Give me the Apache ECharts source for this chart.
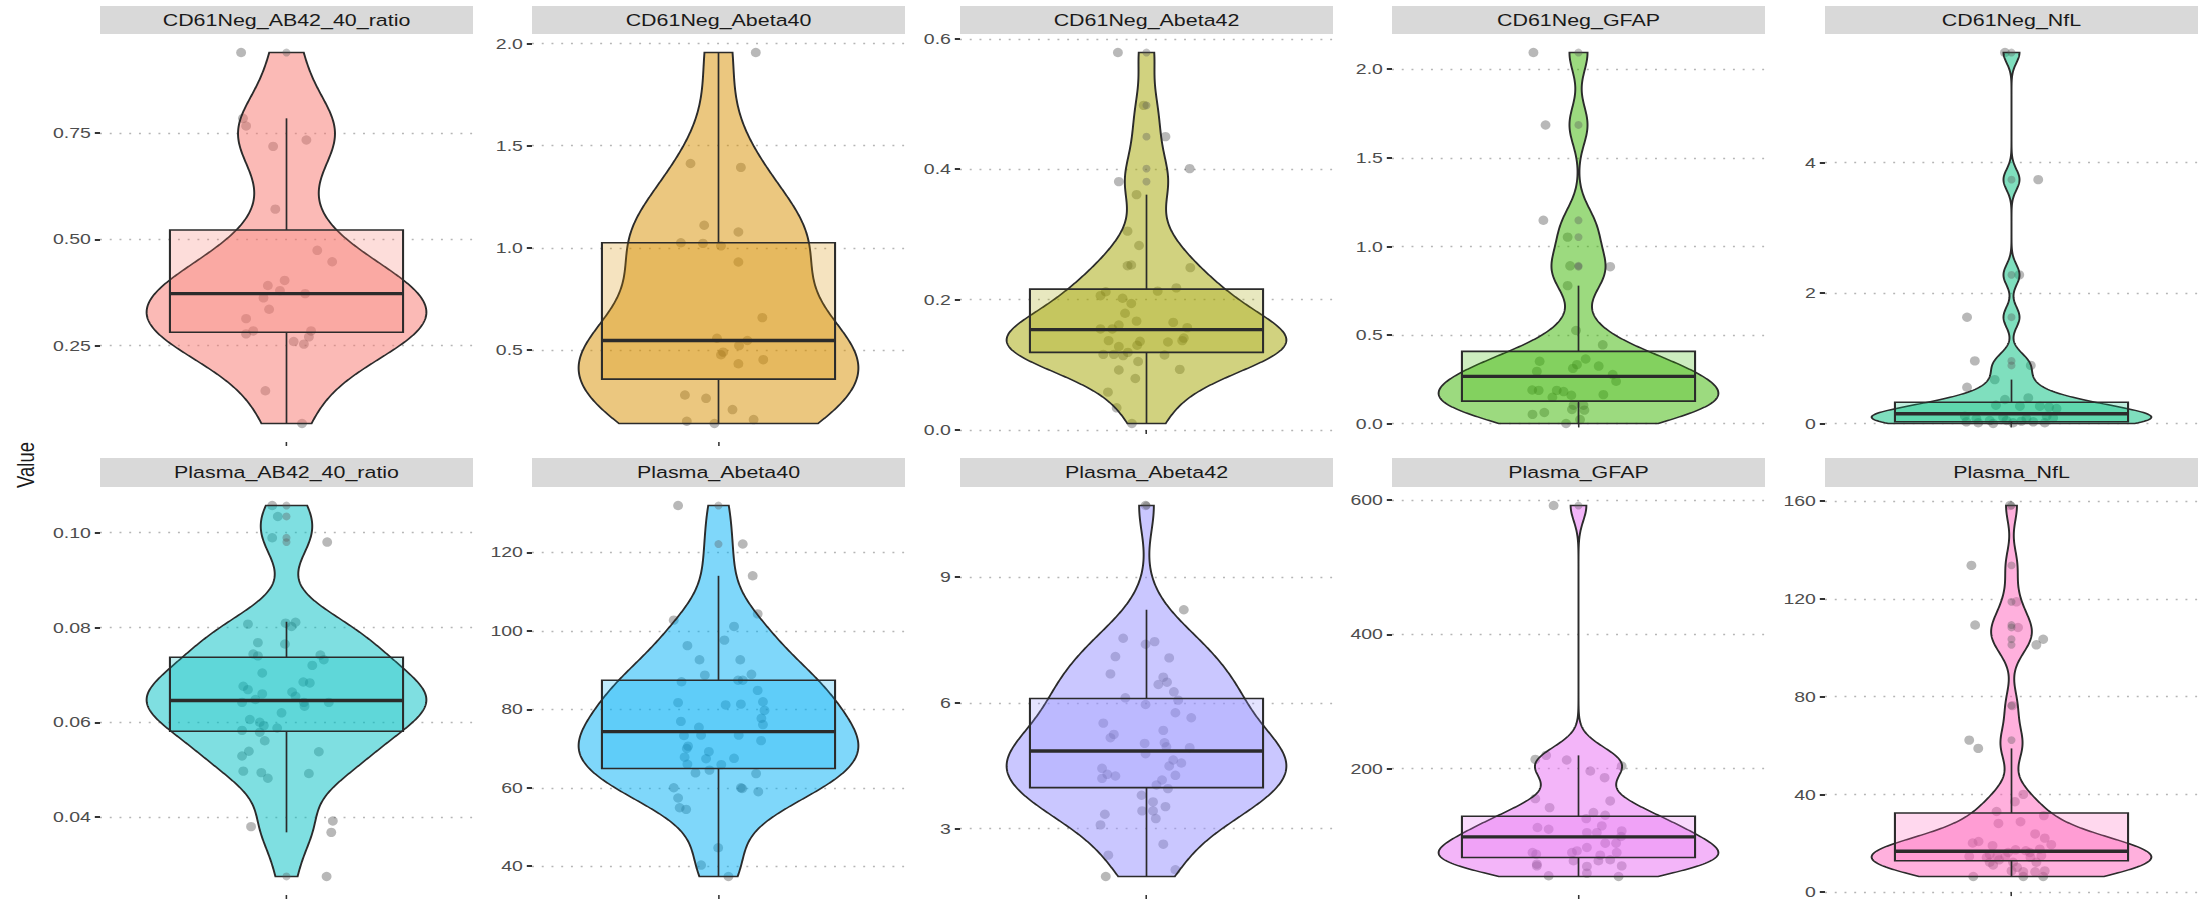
<!DOCTYPE html>
<html>
<head>
<meta charset="utf-8">
<script src="https://cdn.jsdelivr.net/npm/echarts@6/dist/echarts.min.js"></script>
<style>
  html, body { margin: 0; padding: 0; background: #ffffff; overflow: hidden; }
  #wrap { width: 2208px; height: 902px; overflow: hidden; }
  /* the figure is laid out at a narrower width and widened to the page */
  #chart { width: 1700px; height: 902px; transform: scaleX(1.298824); transform-origin: 0 0; }
</style>
</head>
<body>
<div id="wrap"><div id="chart"></div></div>
<script>
// ---- facet titles and fill colours ----
const panelNames = [
  'CD61Neg_AB42_40_ratio', 'CD61Neg_Abeta40', 'CD61Neg_Abeta42', 'CD61Neg_GFAP', 'CD61Neg_NfL',
  'Plasma_AB42_40_ratio', 'Plasma_Abeta40', 'Plasma_Abeta42', 'Plasma_GFAP', 'Plasma_NfL'
];
const panelColors = ['#F8766D', '#D89000', '#A3A500', '#39B600', '#00BF7D',
                     '#00BFC4', '#00B0F6', '#9590FF', '#E76BF3', '#FF62BC'];

// ---- measured values (y) and their horizontal jitter offsets ----
const cd61Ratio = [0.94, 0.785, 0.767, 0.719, 0.734, 0.571, 0.474, 0.447, 0.403, 0.391, 0.379, 0.372, 0.362, 0.335, 0.313, 0.284, 0.277, 0.284, 0.270, 0.259, 0.253, 0.143, 0.066];
const cd61RatioJitter = [-0.146, -0.140, -0.130, -0.043, 0.064, -0.036, 0.099, 0.147, -0.006, -0.060, -0.021, 0.060, -0.074, -0.056, -0.130, -0.107, -0.130, 0.079, 0.072, 0.023, 0.056, -0.068, 0.050];

const cd61Ab40 = [1.956, 1.413, 1.394, 1.111, 1.078, 1.025, 1.022, 1.010, 0.931, 0.659, 0.558, 0.547, 0.522, 0.490, 0.477, 0.453, 0.433, 0.280, 0.264, 0.209, 0.152, 0.141, 0.160];
const cd61Ab40Jitter = [0.120, -0.090, 0.072, -0.046, 0.064, -0.121, -0.050, 0.008, 0.064, 0.141, -0.005, 0.093, 0.066, 0.015, 0.008, 0.144, 0.064, -0.108, -0.040, 0.045, -0.102, -0.013, 0.113];

const cd61Ab42 = [0.579, 0.498, 0.450, 0.401, 0.381, 0.361, 0.305, 0.283, 0.252, 0.253, 0.249, 0.218, 0.213, 0.212, 0.206, 0.202, 0.194, 0.179, 0.167, 0.165, 0.161, 0.155, 0.155, 0.157, 0.137, 0.136, 0.135, 0.141, 0.137, 0.128, 0.130, 0.116, 0.116, 0.119, 0.114, 0.115, 0.105, 0.092, 0.093, 0.079, 0.058, 0.034, 0.010];
const cd61Ab42Jitter = [-0.092, -0.009, 0.061, 0.139, -0.089, -0.032, -0.061, -0.024, -0.061, -0.049, 0.141, 0.096, 0.036, -0.131, -0.148, -0.077, -0.049, -0.069, -0.032, 0.086, -0.089, -0.148, -0.110, 0.131, -0.122, -0.021, 0.069, 0.120, 0.115, -0.089, -0.030, -0.139, -0.105, -0.060, -0.075, 0.058, -0.027, -0.089, 0.107, -0.036, -0.124, -0.096, -0.047];

const cd61Gfap = [2.094, 1.685, 1.147, 1.052, 0.890, 0.885, 0.778, 0.525, 0.444, 0.351, 0.364, 0.332, 0.311, 0.324, 0.294, 0.276, 0.238, 0.189, 0.187, 0.187, 0.180, 0.159, 0.163, 0.148, 0.103, 0.103, 0.079, 0.075, 0.051, 0.062, 0.000, 0.022];
const cd61GfapJitter = [-0.145, -0.106, -0.113, -0.035, -0.027, 0.102, -0.035, -0.008, 0.078, -0.125, 0.023, -0.005, -0.018, 0.065, -0.134, 0.110, 0.121, -0.149, -0.128, -0.070, -0.048, -0.023, 0.080, -0.084, -0.016, 0.016, -0.021, 0.019, -0.148, -0.110, -0.040, 0.005];

const cd61Nfl = [5.69, 3.74, 2.28, 1.63, 0.96, 0.89, 0.673, 0.555, 0.367, 0.392, 0.280, 0.265, 0.265, 0.250, 0.229, 0.112, 0.087, 0.112, 0.076, 0.046, 0.046, 0.036, 0.025, 0.025, 0.010, 0.010, 0.010, 0.0, 0.076, 0.097];
const cd61NflJitter = [-0.021, 0.086, 0.025, -0.143, -0.118, 0.062, -0.054, -0.143, -0.021, 0.054, -0.050, 0.027, 0.091, 0.121, 0.145, 0.113, 0.134, -0.150, -0.113, -0.070, -0.016, 0.032, 0.070, -0.145, -0.107, 0.005, 0.107, -0.059, 0.048, -0.027];

const plasmaRatio = [0.1057, 0.1034, 0.0989, 0.0980, 0.0807, 0.0809, 0.0811, 0.0802, 0.0768, 0.0765, 0.0744, 0.0740, 0.0742, 0.0732, 0.0720, 0.0704, 0.0685, 0.0683, 0.0676, 0.0669, 0.0664, 0.0655, 0.0660, 0.0648, 0.0642, 0.0642, 0.0634, 0.0642, 0.0620, 0.0606, 0.0600, 0.0593, 0.0588, 0.0583, 0.0579, 0.0561, 0.0538, 0.0539, 0.0529, 0.0497, 0.0494, 0.0492, 0.0482, 0.0380, 0.0392, 0.0368, 0.0275];
const plasmaRatioJitter = [-0.046, -0.028, -0.046, 0.131, -0.124, -0.003, 0.029, 0.016, -0.092, -0.005, -0.107, -0.092, 0.109, 0.120, 0.083, -0.078, 0.054, 0.075, -0.139, -0.124, 0.018, 0.029, -0.078, -0.100, -0.143, 0.056, 0.058, 0.136, -0.016, -0.118, -0.086, -0.073, -0.030, -0.143, -0.086, -0.070, 0.104, -0.121, -0.143, -0.139, -0.081, 0.072, -0.060, -0.114, 0.149, 0.144, 0.129];

const plasmaAb40 = [131.9, 122.1, 114.0, 104.3, 102.7, 101.1, 96.2, 97.6, 92.6, 92.6, 88.7, 88.9, 87.0, 87.4, 87.4, 84.8, 81.7, 81.9, 81.1, 81.3, 79.7, 77.7, 76.9, 76.1, 75.4, 73.3, 73.4, 73.4, 72.0, 70.6, 70.0, 69.2, 67.8, 67.4, 67.5, 66.0, 65.9, 64.5, 63.8, 63.6, 60.0, 59.8, 60.0, 59.0, 57.4, 54.9, 54.5, 44.7, 40.3, 37.4];
const plasmaAb40Jitter = [-0.130, 0.078, 0.110, 0.126, -0.144, 0.050, -0.100, 0.019, -0.061, 0.070, -0.044, 0.106, -0.119, 0.063, 0.078, 0.126, -0.130, 0.143, 0.023, 0.072, 0.148, 0.138, -0.121, 0.143, -0.063, -0.111, -0.056, 0.065, 0.137, -0.098, -0.102, -0.031, -0.109, -0.040, 0.050, -0.100, 0.009, -0.029, -0.074, 0.121, -0.144, 0.076, 0.072, 0.128, -0.130, -0.125, -0.104, -0.001, -0.056, 0.032];

const plasmaAb42 = [10.706, 8.22, 7.540, 7.397, 7.460, 7.103, 7.071, 6.690, 6.611, 6.492, 6.437, 6.262, 6.119, 6.063, 5.960, 5.762, 5.643, 5.516, 5.341, 5.246, 5.167, 5.032, 5.048, 4.952, 4.929, 4.786, 4.635, 4.563, 4.492, 4.437, 4.294, 4.254, 4.198, 4.270, 4.159, 4.040, 3.952, 3.794, 3.635, 3.421, 3.421, 3.524, 3.238, 3.341, 3.087, 2.627, 2.365, 2.016, 1.857];
const plasmaAb42Jitter = [-0.003, 0.120, -0.075, -0.003, 0.026, -0.100, 0.073, -0.116, 0.054, 0.066, 0.038, 0.088, -0.068, 0.102, -0.003, 0.093, 0.144, -0.139, 0.054, -0.105, -0.116, -0.006, 0.058, 0.064, 0.139, -0.003, 0.086, 0.112, 0.073, -0.143, -0.126, -0.100, -0.143, 0.093, 0.050, 0.032, 0.069, -0.016, 0.021, -0.014, 0.021, 0.061, 0.030, -0.134, -0.148, 0.054, -0.123, 0.093, -0.131];

const plasmaGfap = [591.6, 219.8, 213.9, 204.0, 212.9, 196.5, 186.6, 155.4, 152.0, 142.1, 134.7, 130.7, 125.7, 114.9, 112.4, 109.9, 107.4, 99.0, 104.9, 104.9, 89.1, 89.1, 75.2, 72.8, 75.2, 77.7, 82.7, 71.3, 75.2, 62.9, 62.9, 64.4, 57.9, 55.4, 54.5, 55.4, 40.6, 44.6, 39.6];
const plasmaGfapJitter = [-0.080, -0.104, -0.139, 0.139, -0.038, 0.038, 0.084, -0.139, 0.102, -0.093, 0.048, 0.086, 0.025, 0.075, -0.132, -0.096, 0.139, 0.137, 0.027, 0.059, 0.086, 0.121, -0.148, -0.136, -0.021, -0.005, 0.027, 0.070, 0.123, -0.016, 0.064, 0.102, -0.134, -0.134, 0.027, 0.139, -0.096, 0.027, 0.129];

const plasmaNfl = [158.2, 133.7, 118.8, 109.3, 108.3, 103.5, 101.2, 76.3, 62.2, 58.8, 40.0, 37.0, 33.0, 31.3, 28.1, 28.8, 23.8, 22.1, 20.1, 20.7, 19.4, 19.0, 17.3, 16.9, 17.6, 14.6, 14.2, 14.6, 14.6, 12.2, 11.1, 12.2, 14.2, 14.9, 10.1, 12.2, 8.7, 8.3, 8.3, 8.7, 6.4, 6.4, 6.4, 13.2, 16.2, 16.2, 15.4];
const plasmaNflJitter = [-0.005, -0.129, 0.016, -0.117, 0.021, 0.102, 0.080, 0.003, -0.136, -0.107, 0.038, 0.011, -0.048, 0.104, -0.042, 0.029, 0.076, 0.107, -0.125, -0.106, 0.128, -0.061, 0.013, 0.046, 0.091, -0.136, -0.080, -0.046, -0.020, -0.070, -0.059, 0.005, 0.061, 0.096, 0.018, 0.080, 0.0, 0.038, 0.076, 0.107, -0.123, 0.038, 0.102, -0.040, -0.011, 0.059, -0.070];

// ---- box statistics: [lower whisker, Q1, median, Q3, upper whisker] ----
const boxStats = [
  [0.066, 0.281, 0.372, 0.522, 0.785],
  [0.141, 0.358, 0.547, 1.025, 1.956],
  [0.010, 0.119, 0.154, 0.216, 0.361],
  [0.000, 0.126, 0.266, 0.407, 0.778],
  [0.000, 0.026, 0.148, 0.326, 0.673],
  [0.0368, 0.0581, 0.0646, 0.0737, 0.0812],
  [37.4, 64.9, 74.3, 87.4, 114.0],
  [1.857, 3.976, 4.849, 6.103, 8.22],
  [39.6, 67.8, 98.5, 129.2, 219.8],
  [6.4, 12.8, 16.7, 32.4, 58.8]
];

// ---- y tick values and their labels ----
const tickValues = [
  [0.25, 0.5, 0.75], [0.5, 1, 1.5, 2], [0, 0.2, 0.4, 0.6], [0, 0.5, 1, 1.5, 2], [0, 2, 4],
  [0.04, 0.06, 0.08, 0.1], [40, 60, 80, 100, 120], [3, 6, 9], [200, 400, 600], [0, 40, 80, 120, 160]
];
const tickLabels = [
  ['0.25', '0.50', '0.75'], ['0.5', '1.0', '1.5', '2.0'], ['0.0', '0.2', '0.4', '0.6'], ['0.0', '0.5', '1.0', '1.5', '2.0'], ['0', '2', '4'],
  ['0.04', '0.06', '0.08', '0.10'], ['40', '60', '80', '100', '120'], ['3', '6', '9'], ['200', '400', '600'], ['0', '40', '80', '120', '160']
];

const panelValues = [cd61Ratio, cd61Ab40, cd61Ab42, cd61Gfap, cd61Nfl, plasmaRatio, plasmaAb40, plasmaAb42, plasmaGfap, plasmaNfl];
const panelJitter = [cd61RatioJitter, cd61Ab40Jitter, cd61Ab42Jitter, cd61GfapJitter, cd61NflJitter,
                     plasmaRatioJitter, plasmaAb40Jitter, plasmaAb42Jitter, plasmaGfapJitter, plasmaNflJitter];

// ---- layout (px, in the narrow drawing space) ----
const SX = 1.298824;
const colLeft = [100, 532, 960, 1392, 1825].map(v => v / SX);
const panelW = 373 / SX;
const rowTop = [34, 487];
const stripTop = [6, 458];
const panelH = 408;
const FONT = '"Liberation Sans", Arial, Helvetica, sans-serif';

function rgba(hex, a) {
  const n = parseInt(hex.slice(1), 16);
  return 'rgba(' + ((n >> 16) & 255) + ',' + ((n >> 8) & 255) + ',' + (n & 255) + ',' + a + ')';
}

// Gaussian kernel density (Silverman bandwidth), trimmed to the data range
function densityProfile(vals, nGrid) {
  const n = vals.length;
  const s = vals.slice().sort((a, b) => a - b);
  const mean = vals.reduce((a, b) => a + b, 0) / n;
  const sd = Math.sqrt(vals.reduce((a, b) => a + (b - mean) * (b - mean), 0) / (n - 1));
  const q = p => { const h = (n - 1) * p, lo = Math.floor(h); const hi = Math.min(lo + 1, n - 1); return s[lo] + (h - lo) * (s[hi] - s[lo]); };
  let spread = Math.min(sd, (q(0.75) - q(0.25)) / 1.34);
  if (!(spread > 0)) spread = sd;
  const bw = 0.9 * spread * Math.pow(n, -0.2);
  const lo = s[0], hi = s[n - 1];
  const out = [];
  let dmax = 0;
  for (let i = 0; i < nGrid; i++) {
    const y = lo + (hi - lo) * i / (nGrid - 1);
    let d = 0;
    for (const v of vals) { const z = (y - v) / bw; d += Math.exp(-0.5 * z * z); }
    out.push([y, d]);
    if (d > dmax) dmax = d;
  }
  return out.map(([y, d]) => [y, d / dmax]);
}

const grids = [], xAxes = [], yAxes = [], series = [], graphics = [];

for (let i = 0; i < 10; i++) {
  const row = i < 5 ? 0 : 1, col = i % 5;
  const vals = panelValues[i], jit = panelJitter[i], color = panelColors[i];
  const [wl, q1, md, q3, wh] = boxStats[i];
  const dmin = Math.min(...vals), dmax = Math.max(...vals);
  const pad = (dmax - dmin) * 0.05;

  grids.push({ left: colLeft[col], top: rowTop[row], width: panelW, height: panelH, containLabel: false, outerBoundsMode: 'none' });

  xAxes.push({
    gridIndex: i, type: 'value', min: 0.4, max: 1.6,
    axisLine: { show: false },
    axisTick: { show: true, customValues: [1], length: 4, lineStyle: { color: '#333333', width: 1.2 } },
    axisLabel: { show: false },
    splitLine: { show: false }
  });

  const tv = tickValues[i], tl = tickLabels[i];
  yAxes.push({
    gridIndex: i, type: 'value', min: dmin - pad, max: dmax + pad,
    axisLine: { show: false },
    axisTick: { show: true, customValues: tv, length: 4, lineStyle: { color: '#333333', width: 2 } },
    axisLabel: {
      show: true, customValues: tv, margin: 7, color: '#4d4d4d', fontSize: 15, fontFamily: FONT,
      formatter: v => { const k = tv.findIndex(t => Math.abs(t - v) < 1e-9); return k >= 0 ? tl[k] : ''; }
    },
    splitLine: { show: true, lineStyle: { color: '#b5b5b5', width: 1.4, type: [1.5, 6] } }
  });

  // jittered observations
  series.push({
    type: 'scatter', xAxisIndex: i, yAxisIndex: i, z: 1, silent: true,
    symbol: 'circle', symbolSize: [7.6, 9.4],
    itemStyle: { color: 'rgba(70,70,70,0.48)' },
    data: vals.map((v, k) => [1 + jit[k], v])
  });

  // violin
  const prof = densityProfile(vals, 512);
  series.push({
    type: 'custom', xAxisIndex: i, yAxisIndex: i, z: 2, silent: true,
    data: [[1, md]],
    renderItem: (params, api) => {
      const pts = [];
      for (let k = 0; k < prof.length; k++) pts.push(api.coord([1 - 0.45 * prof[k][1], prof[k][0]]));
      for (let k = prof.length - 1; k >= 0; k--) pts.push(api.coord([1 + 0.45 * prof[k][1], prof[k][0]]));
      return { type: 'polygon', shape: { points: pts }, style: { fill: rgba(color, 0.5), stroke: '#2b2b2b', lineWidth: 1.5 } };
    }
  });

  // box and whiskers
  series.push({
    type: 'custom', xAxisIndex: i, yAxisIndex: i, z: 3, silent: true,
    data: [[1, md]],
    renderItem: (params, api) => {
      const a = api.coord([0.625, q3]), b = api.coord([1.375, q1]);
      const m0 = api.coord([0.625, md]), m1 = api.coord([1.375, md]);
      const t0 = api.coord([1, q3]), t1 = api.coord([1, wh]);
      const u0 = api.coord([1, q1]), u1 = api.coord([1, wl]);
      return {
        type: 'group', children: [
          { type: 'line', shape: { x1: t0[0], y1: t0[1], x2: t1[0], y2: t1[1] }, style: { stroke: '#2b2b2b', lineWidth: 1.3 } },
          { type: 'line', shape: { x1: u0[0], y1: u0[1], x2: u1[0], y2: u1[1] }, style: { stroke: '#2b2b2b', lineWidth: 1.3 } },
          { type: 'rect', shape: { x: a[0], y: a[1], width: b[0] - a[0], height: b[1] - a[1] },
            style: { fill: rgba(color, 0.25), stroke: '#2b2b2b', lineWidth: 1.6 } },
          { type: 'line', shape: { x1: m0[0], y1: m0[1], x2: m1[0], y2: m1[1] }, style: { stroke: '#2b2b2b', lineWidth: 3.4 } }
        ]
      };
    }
  });

  // values beyond the whiskers, drawn on the box centre
  series.push({
    type: 'scatter', xAxisIndex: i, yAxisIndex: i, z: 4, silent: true,
    symbol: 'circle', symbolSize: [6.2, 7.8],
    itemStyle: { color: 'rgba(90,90,90,0.45)' },
    data: vals.filter(v => v > wh || v < wl).map(v => [1, v])
  });

  // facet strip
  graphics.push({
    type: 'rect', left: colLeft[col], top: stripTop[row], silent: true, z: 10,
    shape: { width: panelW, height: row === 0 ? 28 : 29 },
    style: { fill: '#d9d9d9' }
  });
  graphics.push({
    type: 'text', silent: true, z: 11,
    x: colLeft[col] + panelW / 2, y: stripTop[row] + (row === 0 ? 14 : 14.5),
    style: { text: panelNames[i], fill: '#1a1a1a', font: '16.5px ' + FONT, textAlign: 'center', textVerticalAlign: 'middle' }
  });
}

// y-axis title
graphics.push({
  type: 'text', silent: true, z: 11, x: 26 / SX, y: 465, rotation: Math.PI / 2,
  style: { text: 'Value', fill: '#1a1a1a', font: '18.5px ' + FONT, textAlign: 'center', textVerticalAlign: 'middle' }
});

const chart = echarts.init(document.getElementById('chart'), null, { renderer: 'svg' });
chart.setOption({
  animation: false,
  backgroundColor: '#ffffff',
  textStyle: { fontFamily: FONT },
  grid: grids,
  xAxis: xAxes,
  yAxis: yAxes,
  series: series,
  graphic: graphics
});
</script>
</body>
</html>
